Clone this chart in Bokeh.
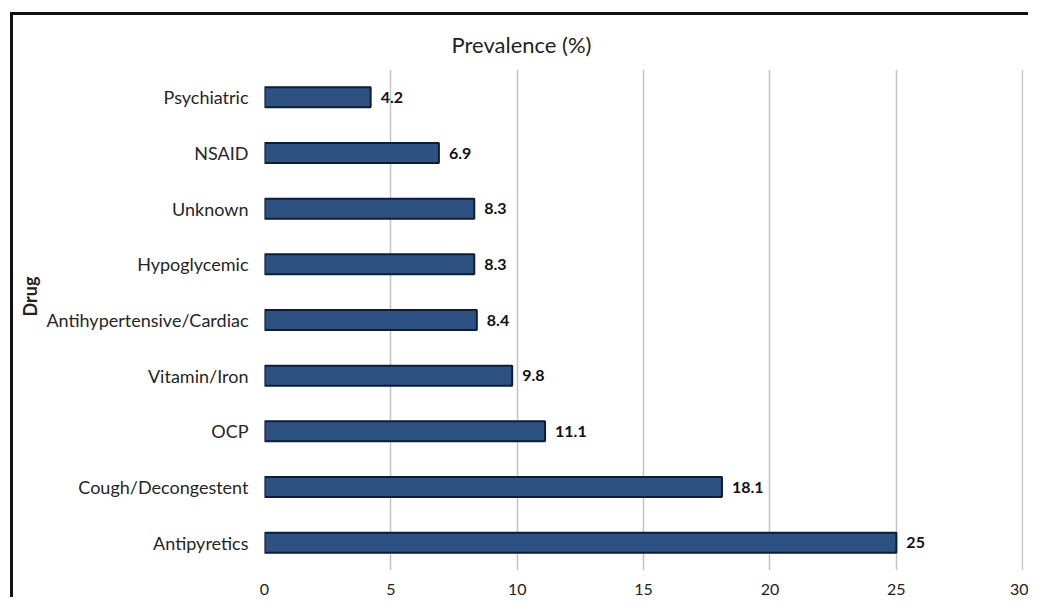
from bokeh.plotting import figure
from bokeh.models import Range1d, FactorRange, FixedTicker, Title, ColumnDataSource
from bokeh.core.properties import value
from bokeh.embed import file_html
from bokeh.resources import INLINE

# Data (top to bottom as shown)
categories = ["Psychiatric", "NSAID", "Unknown", "Hypoglycemic",
              "Antihypertensive/Cardiac", "Vitamin/Iron", "OCP",
              "Cough/Decongestent", "Antipyretics"]
prevalence = [4.2, 6.9, 8.3, 8.3, 8.4, 9.8, 11.1, 18.1, 25]
value_labels = ["4.2", "6.9", "8.3", "8.3", "8.4", "9.8", "11.1", "18.1", "25"]
x_ticks = [0, 5, 10, 15, 20, 25, 30]

FONT = "Lato"

factors = list(reversed(categories))
src = ColumnDataSource(dict(cat=categories, val=prevalence, lab=value_labels))

p = figure(width=1018, height=585, y_range=FactorRange(factors=factors),
           x_range=Range1d(0, 30.03), output_backend="svg", toolbar_location=None,
           min_border_left=251, min_border_right=8, min_border_top=54,
           min_border_bottom=30, margin=(12, 0, 0, 10),
           styles={"border-top": "3px solid #111", "border-left": "3px solid #111"})
p.outline_line_color = None

p.hbar(y="cat", right="val", left=0, height=0.36, source=src,
       fill_color="#2d5282", line_color="#0c1d38", line_width=2)

p.text(x="val", y="cat", text="lab", source=src, x_offset=10,
       text_baseline="middle", text_align="left",
       text_font=value(FONT), text_font_style="bold",
       text_font_size="16px", text_color="#111111")

p.xaxis.ticker = FixedTicker(ticks=x_ticks)
p.xaxis.axis_line_color = None
p.xaxis.major_tick_line_color = None
p.xaxis.minor_tick_line_color = None
p.xaxis.major_label_text_font = FONT
p.xaxis.major_label_text_font_size = "16px"
p.xaxis.major_label_text_color = "#222222"
p.xaxis.major_label_standoff = 7

p.yaxis.axis_line_color = None
p.yaxis.major_tick_line_color = None
p.yaxis.major_tick_out = 0
p.yaxis.major_label_text_font = FONT
p.yaxis.major_label_text_font_size = "18px"
p.yaxis.major_label_text_color = "#262626"
p.yaxis.major_label_standoff = 16

p.xgrid.grid_line_color = "#c4c4c4"
p.xgrid.grid_line_width = 1.5
p.xgrid.ticker = FixedTicker(ticks=x_ticks)
p.ygrid.grid_line_color = None

p.add_layout(Title(text="Prevalence (%)", align="left", offset=187, standoff=24,
                   text_font=FONT, text_font_size="22px",
                   text_font_style="normal", text_color="#222222"), "above")
p.add_layout(Title(text="Drug", align="left", offset=254, standoff=5,
                   text_font=FONT, text_font_size="18px",
                   text_font_style="bold", text_color="#222222"), "left")

open("out.html", "w").write(file_html(p, INLINE))
